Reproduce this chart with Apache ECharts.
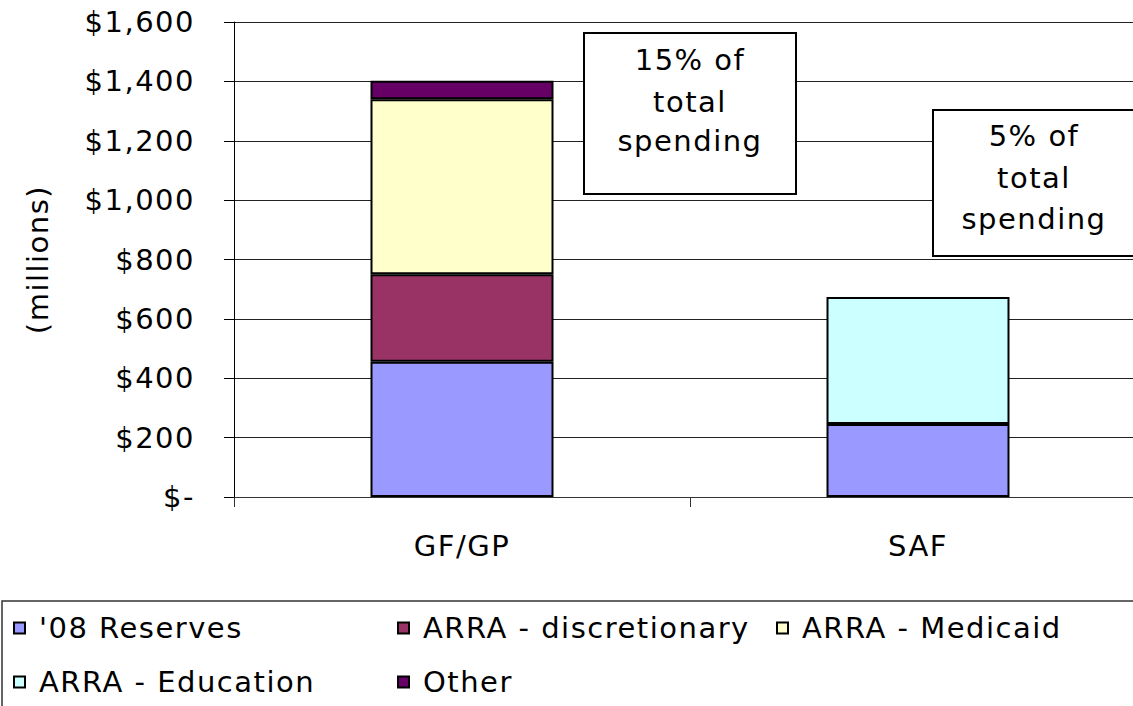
<!DOCTYPE html>
<html>
<head>
<meta charset="utf-8">
<script src="https://cdn.jsdelivr.net/npm/echarts@6/dist/echarts.min.js"></script>
<style>
  html, body { margin: 0; padding: 0; background: #fff; }
  #chart { width: 1133px; height: 706px; }
  #chart text { letter-spacing: 1.5px; }
</style>
</head>
<body>
<div id="chart"></div>
<script>
// ---- data ----
const categories = ['GF/GP', 'SAF'];
const seriesNames = ["'08 Reserves", 'ARRA - discretionary', 'ARRA - Medicaid', 'ARRA - Education', 'Other'];
const reserves08 = [456, 246];
const arraDiscretionary = [294, null];
const arraMedicaid = [590, null];
const arraEducation = [null, 428];
const other = [62, null];
const yTicks = [0, 200, 400, 600, 800, 1000, 1200, 1400, 1600];
const annotations = [
  ['15% of', 'total', 'spending'],
  ['5% of', 'total', 'spending']
];

const colors = ['#9999FF', '#993366', '#FFFFCC', '#CCFFFF', '#660066'];
const FONT = 'DejaVu Sans, Verdana, sans-serif';
const FS = 29;
const values = [reserves08, arraDiscretionary, arraMedicaid, arraEducation, other];

function fmt(v) {
  if (v === 0) return '$-';
  return '$' + v.toLocaleString('en-US');
}

const chart = echarts.init(document.getElementById('chart'), null, { renderer: 'svg' });

const series = seriesNames.map((name, i) => ({
  name: name,
  type: 'bar',
  stack: 'total',
  barWidth: 183,
  data: values[i].map(v => (v === null ? '-' : v)),
  itemStyle: { color: colors[i], borderColor: '#000', borderWidth: 2 },
  emphasis: { disabled: true }
}));

// legend layout (positions only)
const legendPos = [
  { left: 13, top: 613 },
  { left: 397, top: 613 },
  { left: 776, top: 613 },
  { left: 13, top: 667 },
  { left: 397, top: 667 }
];
const legends = seriesNames.map((name, i) => ({
  data: [{ name: name, itemStyle: { borderColor: '#000', borderWidth: 2 } }],
  left: legendPos[i].left,
  top: legendPos[i].top,
  padding: 0,
  itemGap: 0,
  itemWidth: 11,
  itemHeight: 11,
  icon: 'rect',
  selectedMode: false,
  itemStyle: { borderColor: '#000', borderWidth: 2 },
  textStyle: { fontFamily: FONT, fontSize: FS, color: '#000', lineHeight: 30, padding: [0, 0, 0, 9] }
}));

function box(x, y, w, h, lines, cx, ys) {
  const els = [{
    type: 'rect',
    shape: { x: x, y: y, width: w, height: h },
    style: { fill: '#fff', stroke: '#000', lineWidth: 2 },
    z: 10
  }];
  lines.forEach((t, k) => {
    els.push({
      type: 'text',
      x: cx, y: ys[k],
      style: { text: t, font: FS + 'px ' + FONT, fill: '#000', textAlign: 'center', textVerticalAlign: 'middle' },
      z: 11
    });
  });
  return els;
}

const graphics = [].concat(
  box(584, 33, 212, 161, annotations[0], 690, [60, 102, 141]),
  box(933, 110, 210, 146, annotations[1], 1034, [136, 178, 219]),
  [{
    type: 'rect',
    shape: { x: 2, y: 601, width: 1150, height: 120 },
    style: { fill: 'none', stroke: '#333', lineWidth: 1.5 },
    z: 5
  }]
);

chart.setOption({
  animation: false,
  backgroundColor: '#fff',
  grid: { left: 234, width: 912, top: 22, height: 475, containLabel: false, outerBoundsMode: 'none' },
  legend: legends,
  xAxis: {
    type: 'category',
    data: categories,
    axisLine: { lineStyle: { color: '#333', width: 1 } },
    axisTick: { show: true, length: 10, lineStyle: { color: '#333' } },
    axisLabel: { fontFamily: FONT, fontSize: FS, color: '#000', margin: 34 }
  },
  yAxis: {
    type: 'value',
    min: yTicks[0],
    max: yTicks[yTicks.length - 1],
    interval: yTicks[1] - yTicks[0],
    name: '(millions)',
    nameLocation: 'middle',
    nameGap: 182,
    nameTextStyle: { fontFamily: FONT, fontSize: FS, color: '#000' },
    axisLine: { show: true, lineStyle: { color: '#000', width: 1 } },
    axisTick: { show: true, length: 10, lineStyle: { color: '#000' } },
    splitLine: { lineStyle: { color: '#222', width: 1 } },
    axisLabel: { fontFamily: FONT, fontSize: FS, color: '#000', margin: 39, formatter: fmt }
  },
  series: series,
  graphic: graphics
});
</script>
</body>
</html>
